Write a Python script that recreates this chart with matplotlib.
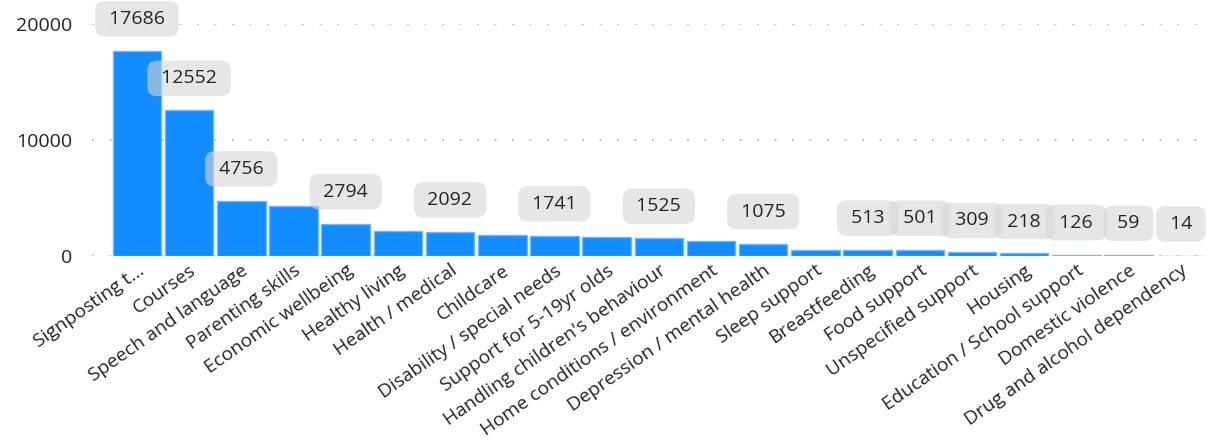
import numpy as np
import matplotlib
matplotlib.use('Agg')
import matplotlib.pyplot as plt

plt.rcParams['font.family'] = ['Open Sans', 'DejaVu Sans']

categories = ['Signposting t...', 'Courses', 'Speech and language', 'Parenting skills',
              'Economic wellbeing', 'Healthy living', 'Health / medical', 'Childcare',
              'Disability / special needs', 'Support for 5-19yr olds',
              "Handling children's behaviour", 'Home conditions / environment',
              'Depression / mental health', 'Sleep support', 'Breastfeeding',
              'Food support', 'Unspecified support', 'Housing',
              'Education / School support', 'Domestic violence',
              'Drug and alcohol dependency']
values = [17686, 12552, 4756, 4310, 2794, 2150, 2092, 1810, 1741, 1660,
          1525, 1320, 1075, 560, 513, 501, 309, 218, 126, 59, 14]
# which bars carry a data label in the original
labelled = [True, True, True, False, True, False, True, False, True, False,
            True, False, True, False, True, True, True, True, True, True, True]

W, H = 1214, 442
fig = plt.figure(figsize=(W / 100, H / 100), dpi=100)
ax = fig.add_axes([92 / W, (H - 256) / H, (1210 - 92) / W, 232 / H])

x = np.arange(len(categories))
ax.bar(x, values, width=0.93, color='#118DFF', edgecolor='#6cb8ff', linewidth=1.0, zorder=2)

ax.set_xlim(-0.86, len(categories) - 0.44)
ax.set_ylim(0, 20000)
ax.set_yticks([0, 10000, 20000])
ax.set_yticklabels(['0', '10000', '20000'])
ax.yaxis.grid(True, linestyle=(0, (1, 8)), linewidth=1.4, color='#c4c4c4', zorder=0)
ax.set_axisbelow(True)
for s in ax.spines.values():
    s.set_visible(False)
ax.tick_params(axis='y', length=0, pad=14, labelsize=14, labelcolor='#252423')
ax.tick_params(axis='x', length=0, pad=4, labelsize=13.8, labelcolor='#252423')

ax.set_xticks(x)
ax.set_xticklabels(categories, rotation=35, ha='right', rotation_mode='anchor')

for xi, v, lab in zip(x, values, labelled):
    if not lab:
        continue
    ax.annotate(' %d ' % v, (xi, v), xytext=(0, 23), textcoords='offset points',
                ha='center', va='center', fontsize=14, color='#252423',
                zorder=5, annotation_clip=False,
                bbox=dict(boxstyle='round,pad=0.45,rounding_size=0.5',
                          fc='#d6d6d6', ec='none', alpha=0.6))

fig.savefig('out.png', dpi=100)
